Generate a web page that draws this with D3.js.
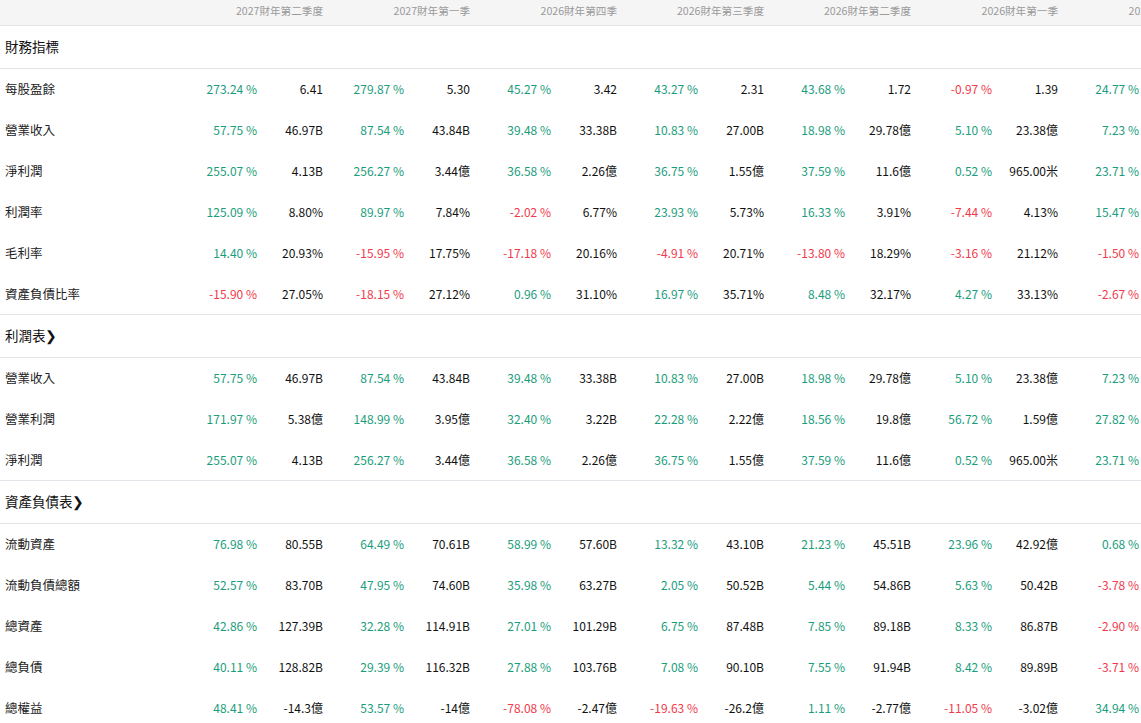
<!DOCTYPE html>
<html>
<head>
<meta charset="utf-8">
<script src="https://cdn.jsdelivr.net/npm/d3@7"></script>
<style>
body { margin: 0; background: #fff; overflow: hidden; }
text { font-family: "Noto Sans CJK TC", "Noto Sans", sans-serif; }
</style>
</head>
<body>
<div id="container"></div>
<script>
var periods = ['2027財年第二季度', '2027財年第一季', '2026財年第四季', '2026財年第三季度', '2026財年第二季度', '2026財年第一季', '2025財年第四季'];

var sections = ['財務指標', '利潤表❯', '資產負債表❯'];

// each row: section index, label, growth %, value
var rowSection = [0, 0, 0, 0, 0, 0, 1, 1, 1, 2, 2, 2, 2, 2];
var rowLabels = ['每股盈餘', '營業收入', '淨利潤', '利潤率', '毛利率', '資產負債比率',
    '營業收入', '營業利潤', '淨利潤',
    '流動資產', '流動負債總額', '總資產', '總負債', '總權益'];
var rowPct = [
    [273.24, 279.87, 45.27, 43.27, 43.68, -0.97, 24.77],
    [57.75, 87.54, 39.48, 10.83, 18.98, 5.10, 7.23],
    [255.07, 256.27, 36.58, 36.75, 37.59, 0.52, 23.71],
    [125.09, 89.97, -2.02, 23.93, 16.33, -7.44, 15.47],
    [14.40, -15.95, -17.18, -4.91, -13.80, -3.16, -1.50],
    [-15.90, -18.15, 0.96, 16.97, 8.48, 4.27, -2.67],
    [57.75, 87.54, 39.48, 10.83, 18.98, 5.10, 7.23],
    [171.97, 148.99, 32.40, 22.28, 18.56, 56.72, 27.82],
    [255.07, 256.27, 36.58, 36.75, 37.59, 0.52, 23.71],
    [76.98, 64.49, 58.99, 13.32, 21.23, 23.96, 0.68],
    [52.57, 47.95, 35.98, 2.05, 5.44, 5.63, -3.78],
    [42.86, 32.28, 27.01, 6.75, 7.85, 8.33, -2.90],
    [40.11, 29.39, 27.88, 7.08, 7.55, 8.42, -3.71],
    [48.41, 53.57, -78.08, -19.63, 1.11, -11.05, 34.94]
];
var rowVal = [
    ['6.41', '5.30', '3.42', '2.31', '1.72', '1.39', ''],
    ['46.97B', '43.84B', '33.38B', '27.00B', '29.78億', '23.38億', ''],
    ['4.13B', '3.44億', '2.26億', '1.55億', '11.6億', '965.00米', ''],
    ['8.80%', '7.84%', '6.77%', '5.73%', '3.91%', '4.13%', ''],
    ['20.93%', '17.75%', '20.16%', '20.71%', '18.29%', '21.12%', ''],
    ['27.05%', '27.12%', '31.10%', '35.71%', '32.17%', '33.13%', ''],
    ['46.97B', '43.84B', '33.38B', '27.00B', '29.78億', '23.38億', ''],
    ['5.38億', '3.95億', '3.22B', '2.22億', '19.8億', '1.59億', ''],
    ['4.13B', '3.44億', '2.26億', '1.55億', '11.6億', '965.00米', ''],
    ['80.55B', '70.61B', '57.60B', '43.10B', '45.51B', '42.92億', ''],
    ['83.70B', '74.60B', '63.27B', '50.52B', '54.86B', '50.42B', ''],
    ['127.39B', '114.91B', '101.29B', '87.48B', '89.18B', '86.87B', ''],
    ['128.82B', '116.32B', '103.76B', '90.10B', '91.94B', '89.89B', ''],
    ['-14.3億', '-14億', '-2.47億', '-26.2億', '-2.77億', '-3.02億', '']
];

var width = 1141, height = 723;
var svg = d3.select('#container').append('svg')
    .attr('width', width).attr('height', height);

var col = d3.scaleLinear().domain([0, 1]).range([323, 470]); // value column right edge
var pctOffset = -66;
var green = '#1a9d7c', red = '#f2394b';

// header
svg.append('rect').attr('width', width).attr('height', 25).style('fill', '#f5f5f6');
svg.append('line').attr('x1', 0).attr('x2', width).attr('y1', 25.5).attr('y2', 25.5)
    .style('stroke', '#e3e3ea');
svg.selectAll('.period').data(periods).enter().append('text')
    .attr('x', function(d, i) { return col(i); })
    .attr('y', 15)
    .attr('text-anchor', 'end')
    .style('font-size', '10.6px').style('fill', '#9a9a9a')
    .text(function(d) { return d; });

// build vertical layout
var layout = [], y = 25, prev = -1;
rowLabels.forEach(function(d, i) {
    if (rowSection[i] !== prev) {
        if (prev !== -1) { layout.push({ type: 'line', y: y }); }
        layout.push({ type: 'section', y: y + 22, label: sections[rowSection[i]] });
        y += 43;
        layout.push({ type: 'line', y: y });
        prev = rowSection[i];
    }
    layout.push({ type: 'row', y: y + 21, idx: i });
    y += 41;
});

svg.selectAll('.sep').data(layout.filter(function(d) { return d.type === 'line'; }))
    .enter().append('line')
    .attr('x1', 0).attr('x2', width)
    .attr('y1', function(d) { return d.y + 0.5; }).attr('y2', function(d) { return d.y + 0.5; })
    .style('stroke', '#e3e3ea');

svg.selectAll('.sec').data(layout.filter(function(d) { return d.type === 'section'; }))
    .enter().append('text')
    .attr('x', 5).attr('y', function(d) { return d.y + 5; })
    .style('font-size', '13.5px').style('fill', '#111')
    .text(function(d) { return d.label; });

var rows = svg.selectAll('.row').data(layout.filter(function(d) { return d.type === 'row'; }))
    .enter().append('g')
    .attr('transform', function(d) { return 'translate(0,' + (d.y + 5) + ')'; });

rows.append('text').attr('x', 5)
    .style('font-size', '12.5px').style('fill', '#222')
    .text(function(d) { return rowLabels[d.idx]; });

rows.each(function(r) {
    var g = d3.select(this);
    g.selectAll('.p').data(rowPct[r.idx]).enter().append('text')
        .attr('x', function(d, i) { return col(i) + pctOffset; })
        .attr('text-anchor', 'end')
        .style('font-size', '12px')
        .style('fill', function(d) { return d < 0 ? red : green; })
        .text(function(d) { return d.toFixed(2) + ' %'; });
    g.selectAll('.v').data(rowVal[r.idx]).enter().append('text')
        .attr('x', function(d, i) { return col(i); })
        .attr('text-anchor', 'end')
        .style('font-size', '12px').style('fill', '#111')
        .text(function(d) { return d; });
});
</script>
</body>
</html>
